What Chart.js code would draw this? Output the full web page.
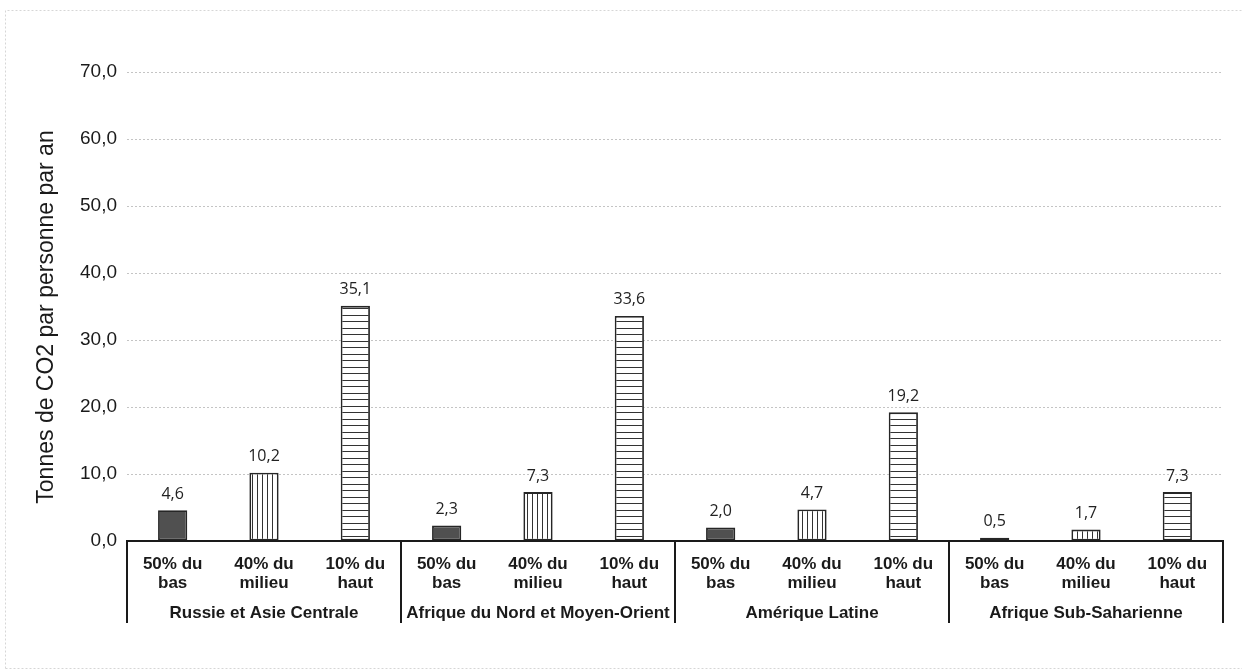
<!DOCTYPE html>
<html>
<head>
<meta charset="utf-8">
<script src="https://cdn.jsdelivr.net/npm/chart.js@4/dist/chart.umd.min.js"></script>
<style>
  html, body { margin: 0; padding: 0; background: #fff; }
  #wrap { width: 1242px; height: 671px; position: relative; }
</style>
</head>
<body>
<div id="wrap"><canvas id="c" width="1242" height="671"></canvas></div>
<script>
// Regions and income tiers
const regions = [
  'Russie et Asie Centrale',
  'Afrique du Nord et Moyen-Orient',
  'Amérique Latine',
  'Afrique Sub-Saharienne'
];
const tiers = [['50% du', 'bas'], ['40% du', 'milieu'], ['10% du', 'haut']];

// Tonnes of CO2 per person per year, per region
const bottom50 = [4.6, 2.3, 2.0, 0.5];
const middle40 = [10.2, 7.3, 4.7, 1.7];
const top10 = [35.1, 33.6, 19.2, 7.3];

const yMin = 0;
const yMax = 70;
const yStep = 10;
const yTitle = 'Tonnes de CO2 par personne par an';

const fmt = v => Number(v).toFixed(1).replace('.', ',');

// Fill patterns for the three tiers
function stripePattern(vertical) {
  const c = document.createElement('canvas');
  const ctx = c.getContext('2d');
  if (vertical) {
    c.width = 5; c.height = 5;
    ctx.fillStyle = '#ffffff'; ctx.fillRect(0, 0, 5, 5);
    ctx.fillStyle = '#333333'; ctx.fillRect(2, 0, 1, 5);
  } else {
    c.width = 6; c.height = 13;
    ctx.fillStyle = '#ffffff'; ctx.fillRect(0, 0, 6, 13);
    ctx.fillStyle = '#333333';
    ctx.fillRect(0, 3, 6, 1);
    ctx.fillRect(0, 9, 6, 1);
  }
  return ctx.createPattern(c, 'repeat');
}
const tierFills = ['#505050', stripePattern(true), stripePattern(false)];
const tierSeries = [bottom50, middle40, top10];

// Flatten into one category per (region, tier)
const labels = [];
const values = [];
const fills = [];
regions.forEach((r, ri) => {
  tiers.forEach((t, ti) => {
    labels.push(t);
    values.push(tierSeries[ti][ri]);
    fills.push(tierFills[ti]);
  });
});

// White page with a faint dotted frame
const framePlugin = {
  id: 'frame',
  beforeDraw(chart) {
    const ctx = chart.ctx;
    ctx.save();
    ctx.fillStyle = '#ffffff';
    ctx.fillRect(0, 0, chart.width, chart.height);
    ctx.strokeStyle = '#d6d6d6';
    ctx.lineWidth = 1;
    ctx.setLineDash([2, 2]);
    ctx.beginPath();
    ctx.moveTo(5.5, 668.5); ctx.lineTo(5.5, 10.5); ctx.lineTo(1242, 10.5);
    ctx.moveTo(5.5, 668.5); ctx.lineTo(1242, 668.5);
    ctx.stroke();
    ctx.restore();
  }
};

// Rotated y-axis title
const yTitlePlugin = {
  id: 'yTitle',
  afterDraw(chart) {
    const ctx = chart.ctx;
    ctx.save();
    ctx.translate(47, 317);
    ctx.rotate(-Math.PI / 2);
    ctx.font = '23px Arial, "Liberation Sans", sans-serif';
    ctx.fillStyle = '#1a1a1a';
    ctx.textAlign = 'center';
    ctx.textBaseline = 'middle';
    ctx.fillText(yTitle, 0, 0);
    ctx.restore();
  }
};

// Region boxes under the tier labels
const groupPlugin = {
  id: 'groups',
  afterDraw(chart) {
    const xs = chart.scales.x;
    const ctx = chart.ctx;
    const step = xs.getPixelForValue(1) - xs.getPixelForValue(0);
    const top = xs.top;
    const bottom = top + 82;
    ctx.save();
    ctx.strokeStyle = '#1a1a1a';
    ctx.lineWidth = 2;
    ctx.beginPath();
    for (let g = 0; g <= regions.length; g++) {
      const x = g < regions.length
        ? xs.getPixelForValue(g * tiers.length) - step / 2
        : xs.getPixelForValue(g * tiers.length - 1) + step / 2;
      ctx.moveTo(x, top);
      ctx.lineTo(x, bottom);
    }
    ctx.stroke();
    ctx.font = 'bold 17px Arial, "Liberation Sans", sans-serif';
    ctx.fillStyle = '#1a1a1a';
    ctx.textAlign = 'center';
    ctx.textBaseline = 'middle';
    regions.forEach((r, g) => {
      const cx = xs.getPixelForValue(g * tiers.length + 1);
      ctx.fillText(r, cx, top + 72);
    });
    ctx.restore();
  }
};

// Value labels above each bar
const valueLabelPlugin = {
  id: 'valueLabels',
  afterDatasetsDraw(chart) {
    const ctx = chart.ctx;
    const meta = chart.getDatasetMeta(0);
    ctx.save();
    ctx.font = '16px "Open Sans", sans-serif';
    ctx.fillStyle = '#222222';
    ctx.textAlign = 'center';
    ctx.textBaseline = 'middle';
    meta.data.forEach((el, i) => {
      ctx.fillText(fmt(chart.data.datasets[0].data[i]), el.x, el.y - 16);
    });
    ctx.restore();
  }
};

new Chart(document.getElementById('c'), {
  type: 'bar',
  data: {
    labels: labels,
    datasets: [{
      data: values,
      backgroundColor: fills,
      borderColor: '#262626',
      borderWidth: 1.8,
      borderSkipped: false,
      categoryPercentage: 1,
      barPercentage: 0.32
    }]
  },
  options: {
    responsive: false,
    animation: false,
    devicePixelRatio: 1,
    layout: { padding: { top: 72, right: 19, bottom: 0, left: 0 } },
    plugins: {
      legend: { display: false },
      tooltip: { enabled: false }
    },
    scales: {
      x: {
        grid: { display: false },
        border: { display: true, color: '#1a1a1a', width: 2 },
        ticks: {
          autoSkip: false,
          maxRotation: 0,
          minRotation: 0,
          padding: 6,
          color: '#1a1a1a',
          font: { family: 'Arial, "Liberation Sans", sans-serif', size: 17, weight: 'bold', lineHeight: 1.1 }
        },
        afterFit(s) { s.height = 130; }
      },
      y: {
        min: yMin,
        max: yMax,
        ticks: {
          stepSize: yStep,
          padding: 10,
          color: '#1a1a1a',
          font: { family: 'Arial, "Liberation Sans", sans-serif', size: 19 },
          callback: v => fmt(v)
        },
        grid: { color: '#c4c4c4', lineWidth: 1, drawTicks: false },
        border: { display: false, dash: [2, 2] },
        afterFit(s) { s.width = 127; }
      }
    }
  },
  plugins: [framePlugin, yTitlePlugin, groupPlugin, valueLabelPlugin]
});
</script>
</body>
</html>
